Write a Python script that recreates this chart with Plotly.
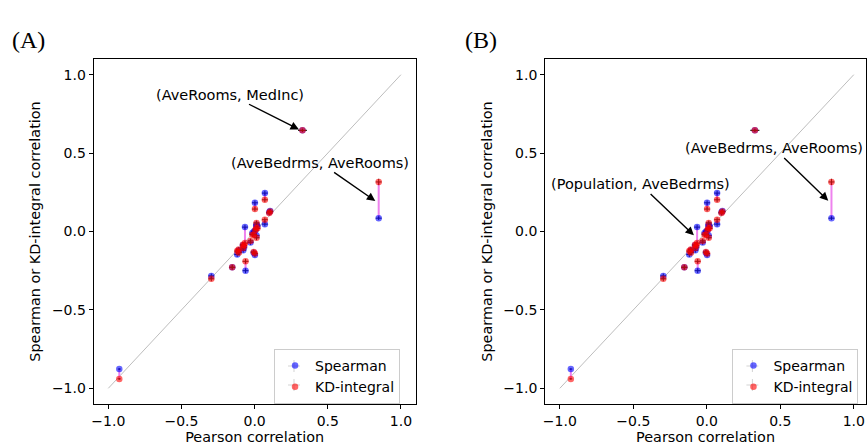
import plotly.graph_objects as go

# ---- data -------------------------------------------------------------
pairs = [
    ("HouseAge", "MedInc"), ("AveRooms", "MedInc"), ("AveBedrms", "MedInc"),
    ("Population", "MedInc"), ("AveOccup", "MedInc"), ("Latitude", "MedInc"),
    ("Longitude", "MedInc"), ("AveRooms", "HouseAge"), ("AveBedrms", "HouseAge"),
    ("Population", "HouseAge"), ("AveOccup", "HouseAge"), ("Latitude", "HouseAge"),
    ("Longitude", "HouseAge"), ("AveBedrms", "AveRooms"), ("Population", "AveRooms"),
    ("AveOccup", "AveRooms"), ("Latitude", "AveRooms"), ("Longitude", "AveRooms"),
    ("Population", "AveBedrms"), ("AveOccup", "AveBedrms"), ("Latitude", "AveBedrms"),
    ("Longitude", "AveBedrms"), ("AveOccup", "Population"), ("Latitude", "Population"),
    ("Longitude", "Population"), ("Latitude", "AveOccup"), ("Longitude", "AveOccup"),
    ("Longitude", "Latitude"),
]
pearson = [-0.119, 0.327, -0.062, 0.005, 0.019, -0.080, -0.015, -0.153, -0.078,
           -0.296, 0.013, 0.011, -0.108, 0.848, -0.072, -0.005, 0.106, -0.028,
           -0.066, -0.006, 0.070, 0.013, 0.070, -0.109, 0.100, 0.002, 0.002, -0.925]
spearman = [-0.147, 0.645, -0.250, 0.006, 0.035, -0.088, -0.010, -0.228, -0.120,
            -0.283, -0.025, 0.035, -0.120, 0.085, -0.100, 0.000, 0.130, -0.070,
            0.028, -0.135, 0.047, 0.045, 0.245, -0.125, 0.122, -0.150, 0.183, -0.877]
kd_integral = [-0.125, 0.645, -0.190, 0.010, 0.020, -0.085, -0.020, -0.228, -0.105,
               -0.302, -0.040, 0.020, -0.135, 0.316, -0.090, -0.020, 0.128, -0.060,
               -0.074, -0.130, 0.075, 0.055, 0.202, -0.115, 0.118, -0.140, 0.143, -0.940]
pearson_err = [0.02, 0.03, 0.02, 0.02, 0.02, 0.02, 0.02, 0.02, 0.02, 0.02, 0.02, 0.02,
               0.02, 0.02, 0.02, 0.02, 0.02, 0.02, 0.02, 0.02, 0.02, 0.02, 0.02, 0.02,
               0.02, 0.02, 0.02, 0.01]
spearman_err = [0.015, 0.01, 0.015, 0.015, 0.015, 0.015, 0.015, 0.015, 0.015, 0.015,
                0.015, 0.015, 0.015, 0.012, 0.015, 0.015, 0.015, 0.015, 0.015, 0.015,
                0.015, 0.015, 0.015, 0.015, 0.015, 0.015, 0.015, 0.005]
kd_err = [0.015, 0.01, 0.015, 0.015, 0.015, 0.015, 0.015, 0.015, 0.015, 0.015,
          0.015, 0.015, 0.015, 0.02, 0.015, 0.015, 0.015, 0.015, 0.015, 0.015,
          0.015, 0.015, 0.015, 0.015, 0.015, 0.015, 0.015, 0.005]
diag = [-1.0, 1.0]
ticks = [-1.0, -0.5, 0.0, 0.5, 1.0]

# annotations: (pair index, text x, text y, arrow-tip y shift)
annot_A = [(1, -0.167, 0.872, 0.0), (13, 0.45, 0.438, -0.013)]
annot_B = [(13, 0.46, 0.53, -0.013), (18, -0.45, 0.30, -0.01)]

# ---- figure -----------------------------------------------------------
W, H = 867, 448
fig = go.Figure()

FONT = "DejaVu Sans"
BLUE = "rgba(0,0,255,0.6)"
RED = "rgba(255,0,0,0.6)"


def add_panel(xa, ya, legend):
    xs, ys = [], []
    for p, s, k in zip(pearson, spearman, kd_integral):
        xs += [p, p, None]
        ys += [s, k, None]
    fig.add_trace(go.Scatter(x=diag, y=diag, mode="lines",
                             line=dict(color="#b5b5b5", width=0.9),
                             xaxis=xa, yaxis=ya, showlegend=False, hoverinfo="skip"))
    fig.add_trace(go.Scatter(x=xs, y=ys, mode="lines",
                             line=dict(color="violet", width=2),
                             xaxis=xa, yaxis=ya, showlegend=False, hoverinfo="skip"))
    fig.add_trace(go.Scatter(x=pearson, y=spearman, mode="markers", name="Spearman",
                             marker=dict(color=BLUE, size=6.5, line=dict(width=0)),
                             error_x=dict(type="data", array=pearson_err, color="#222",
                                          thickness=1, width=0),
                             error_y=dict(type="data", array=spearman_err, color="#222",
                                          thickness=1, width=0),
                             xaxis=xa, yaxis=ya, legend=legend))
    fig.add_trace(go.Scatter(x=pearson, y=kd_integral, mode="markers", name="KD-integral",
                             marker=dict(color=RED, size=6.5, line=dict(width=0)),
                             error_x=dict(type="data", array=pearson_err, color="#222",
                                          thickness=1, width=0),
                             error_y=dict(type="data", array=kd_err, color="#222",
                                          thickness=1, width=0),
                             xaxis=xa, yaxis=ya, legend=legend))


add_panel("x", "y", "legend")
add_panel("x2", "y2", "legend2")

ax_common = dict(tickvals=ticks, tickformat=".1f",
                 showline=True, linecolor="black", linewidth=1, mirror=True,
                 ticks="outside", ticklen=4, tickcolor="black", showgrid=False,
                 zeroline=False, tickfont=dict(family=FONT, size=14, color="black"))
title_font = dict(family=FONT, size=14.4, color="black")
leg_font = dict(family=FONT, size=14, color="black")

yA = [(448 - 404) / H, (448 - 59) / H]
fig.update_layout(
    width=W, height=H, margin=dict(l=0, r=0, t=0, b=0),
    paper_bgcolor="white", plot_bgcolor="white",
    xaxis=dict(ax_common, range=[-1.1, 1.1], domain=[92 / W, 415 / W], anchor="y",
               title=dict(text="Pearson correlation", standoff=3, font=title_font)),
    yaxis=dict(ax_common, range=[-1.1, 1.1], domain=yA, anchor="x",
               title=dict(text="Spearman or KD-integral correlation", standoff=7,
                          font=title_font)),
    xaxis2=dict(ax_common, range=[-1.1, -1.1 + (867 - 545) / 147.5],
                domain=[545 / W, 1.0], anchor="y2",
                title=dict(text="Pearson correlation", standoff=3, font=title_font)),
    yaxis2=dict(ax_common, range=[-1.1, 1.1], domain=yA, anchor="x2",
                title=dict(text="Spearman or KD-integral correlation", standoff=7,
                           font=title_font)),
    legend=dict(x=273 / W, y=(448 - 349) / H, xanchor="left", yanchor="top",
                bgcolor="rgba(255,255,255,0.8)", bordercolor="#cccccc", borderwidth=1,
                font=leg_font),
    legend2=dict(x=733 / W, y=(448 - 349) / H, xanchor="left", yanchor="top",
                 bgcolor="rgba(255,255,255,0.8)", bordercolor="#cccccc", borderwidth=1,
                 font=leg_font),
)

anns = []
for (i, tx, ty, dy), xr, yr in [(a, "x", "y") for a in annot_A] + [(a, "x2", "y2") for a in annot_B]:
    px = pearson[i] - 0.012
    py = spearman[i] if i == 1 else (spearman[i] + kd_integral[i]) / 2 + dy
    anns.append(dict(x=px, y=py, xref=xr, yref=yr, ax=tx, ay=ty, axref=xr, ayref=yr,
                     text="(%s, %s)" % pairs[i], showarrow=True, arrowhead=2,
                     arrowsize=1.2, arrowwidth=1.4, arrowcolor="black", standoff=2,
                     font=dict(family=FONT, size=14.5, color="black")))
anns.append(dict(x=8 / W, y=(448 - 25) / H, xref="paper", yref="paper", text="(A)",
                 showarrow=False, xanchor="left",
                 font=dict(family="Liberation Serif", size=24, color="black")))
anns.append(dict(x=463 / W, y=(448 - 25) / H, xref="paper", yref="paper", text="(B)",
                 showarrow=False, xanchor="left",
                 font=dict(family="Liberation Serif", size=24, color="black")))
fig.update_layout(annotations=anns)

# small error-bar crosses over the legend symbols (legend decoration)
shapes = []
for lx in (273, 733):
    for ly in (366, 385):
        cx = lx + 20
        shapes.append(dict(type="line", xref="paper", yref="paper",
                           x0=(cx - 6) / W, x1=(cx + 6) / W,
                           y0=(H - ly) / H, y1=(H - ly) / H,
                           line=dict(color="#222", width=1)))
        shapes.append(dict(type="line", xref="paper", yref="paper",
                           x0=cx / W, x1=cx / W,
                           y0=(H - ly - 6) / H, y1=(H - ly + 6) / H,
                           line=dict(color="#222", width=1)))
fig.update_layout(shapes=shapes)

fig.write_html("out.html", config={"displayModeBar": False},
               post_script="document.body.style.margin='0px';document.body.style.overflow='hidden';")
